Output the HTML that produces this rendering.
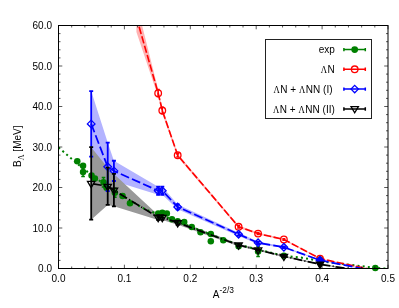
<!DOCTYPE html>
<html><head><meta charset="utf-8"><title>plot</title><style>html,body{margin:0;padding:0;background:#fff;overflow:hidden}</style></head><body>
<svg width="399" height="308" viewBox="0 0 399 308" style="display:block;will-change:transform;font-family:'Liberation Sans',sans-serif">
<rect width="399" height="308" fill="#fff"/>
<defs><clipPath id="c"><rect x="58.5" y="25.5" width="329.5" height="243"/></clipPath></defs>
<polygon points="91.19,91.11 107.71,142.54 113.92,160.77 158.17,186.69 162.29,186.69 177.69,204.51 238.59,232.66 258.08,241.57 283.87,246.43 320.02,259.79 375.31,270.93 375.31,271.74 320.02,260.60 283.87,248.05 258.08,244.00 238.59,235.90 177.69,209.37 162.29,194.79 158.17,194.79 113.92,181.02 107.71,191.15 91.19,156.72" fill="#b3b3ff" fill-opacity="1" clip-path="url(#c)"/>
<polygon points="91.19,147.20 107.71,167.66 113.92,173.93 158.17,215.04 162.29,215.04 177.69,220.71 238.59,243.79 258.08,249.06 283.87,255.54 320.02,263.84 375.31,272.55 375.31,273.36 320.02,264.65 283.87,257.16 258.08,250.68 238.59,246.22 177.69,224.76 162.29,219.90 158.17,219.90 113.92,206.33 107.71,204.91 91.19,219.70" fill="#999999" fill-opacity="1" clip-path="url(#c)"/>
<polygon points="136.41,2.82 158.17,89.49 162.29,107.31 177.69,153.68 238.59,225.57 258.08,232.58 283.87,238.69 320.02,258.17 375.31,270.12 375.31,270.93 320.02,258.98 283.87,240.31 258.08,234.60 238.59,228.00 177.69,156.92 162.29,113.79 158.17,96.78 136.41,31.98" fill="#ffb3b3" fill-opacity="1" clip-path="url(#c)"/>
<polyline fill="none" stroke="#008000" stroke-width="2" stroke-dasharray="2 3.2" clip-path="url(#c)" points="58.50,147.41 71.02,158.34 77.28,163.61 91.45,174.94 107.92,186.69 124.40,197.22 144.83,209.09 150.10,211.19 162.29,215.85 177.78,221.52 190.30,226.38 200.45,230.43 223.25,239.34 238.60,244.60 258.11,249.47 283.88,255.74 301.01,257.56 310.24,259.19 325.40,261.82 335.28,262.99 344.24,264.05 374.82,267.89 388.00,268.70"/>
<path d="M77.27 160.37V161.99M75.47 160.37h3.6 M75.47 161.99h3.6" stroke="#008000" stroke-width="1.5" fill="none" clip-path="url(#c)"/>
<path d="M83.06 164.01V167.25M81.26 164.01h3.6 M81.26 167.25h3.6" stroke="#008000" stroke-width="1.5" fill="none" clip-path="url(#c)"/>
<path d="M83.06 167.66V176.57M81.26 167.66h3.6 M81.26 176.57h3.6" stroke="#008000" stroke-width="1.5" fill="none" clip-path="url(#c)"/>
<path d="M91.56 173.93V177.17M89.76 173.93h3.6 M89.76 177.17h3.6" stroke="#008000" stroke-width="1.5" fill="none" clip-path="url(#c)"/>
<path d="M94.91 177.38V179.81M93.11 177.38h3.6 M93.11 179.81h3.6" stroke="#008000" stroke-width="1.5" fill="none" clip-path="url(#c)"/>
<path d="M103.52 177.38V187.09M101.72 177.38h3.6 M101.72 187.09h3.6" stroke="#008000" stroke-width="1.5" fill="none" clip-path="url(#c)"/>
<path d="M106.42 185.19V190.05M104.62 185.19h3.6 M104.62 190.05h3.6" stroke="#008000" stroke-width="1.5" fill="none" clip-path="url(#c)"/>
<path d="M114.84 188.31V197.22M113.04 188.31h3.6 M113.04 197.22h3.6" stroke="#008000" stroke-width="1.5" fill="none" clip-path="url(#c)"/>
<path d="M122.55 193.98V198.03M120.75 193.98h3.6 M120.75 198.03h3.6" stroke="#008000" stroke-width="1.5" fill="none" clip-path="url(#c)"/>
<path d="M129.97 202.48V204.10M128.17 202.48h3.6 M128.17 204.10h3.6" stroke="#008000" stroke-width="1.5" fill="none" clip-path="url(#c)"/>
<path d="M158.17 212.21V214.64M156.37 212.21h3.6 M156.37 214.64h3.6" stroke="#008000" stroke-width="1.5" fill="none" clip-path="url(#c)"/>
<path d="M162.29 211.96V213.58M160.49 211.96h3.6 M160.49 213.58h3.6" stroke="#008000" stroke-width="1.5" fill="none" clip-path="url(#c)"/>
<path d="M159.77 214.63V217.06M157.97 214.63h3.6 M157.97 217.06h3.6" stroke="#008000" stroke-width="1.5" fill="none" clip-path="url(#c)"/>
<path d="M166.85 212.65V214.27M165.05 212.65h3.6 M165.05 214.27h3.6" stroke="#008000" stroke-width="1.5" fill="none" clip-path="url(#c)"/>
<path d="M171.95 218.00V220.43M170.15 218.00h3.6 M170.15 220.43h3.6" stroke="#008000" stroke-width="1.5" fill="none" clip-path="url(#c)"/>
<path d="M177.69 220.35V221.97M175.89 220.35h3.6 M175.89 221.97h3.6" stroke="#008000" stroke-width="1.5" fill="none" clip-path="url(#c)"/>
<path d="M184.23 221.12V222.74M182.43 221.12h3.6 M182.43 222.74h3.6" stroke="#008000" stroke-width="1.5" fill="none" clip-path="url(#c)"/>
<path d="M191.74 226.62V227.43M189.94 226.62h3.6 M189.94 227.43h3.6" stroke="#008000" stroke-width="1.5" fill="none" clip-path="url(#c)"/>
<path d="M200.48 231.44V233.06M198.68 231.44h3.6 M198.68 233.06h3.6" stroke="#008000" stroke-width="1.5" fill="none" clip-path="url(#c)"/>
<path d="M210.81 233.26V234.88M209.01 233.26h3.6 M209.01 234.88h3.6" stroke="#008000" stroke-width="1.5" fill="none" clip-path="url(#c)"/>
<path d="M210.81 240.92V241.73M209.01 240.92h3.6 M209.01 241.73h3.6" stroke="#008000" stroke-width="1.5" fill="none" clip-path="url(#c)"/>
<path d="M223.25 239.75V240.56M221.45 239.75h3.6 M221.45 240.56h3.6" stroke="#008000" stroke-width="1.5" fill="none" clip-path="url(#c)"/>
<path d="M238.59 245.01V247.44M236.79 245.01h3.6 M236.79 247.44h3.6" stroke="#008000" stroke-width="1.5" fill="none" clip-path="url(#c)"/>
<path d="M258.08 246.71V256.43M256.28 246.71h3.6 M256.28 256.43h3.6" stroke="#008000" stroke-width="1.5" fill="none" clip-path="url(#c)"/>
<path d="M283.87 255.46V256.27M282.07 255.46h3.6 M282.07 256.27h3.6" stroke="#008000" stroke-width="1.5" fill="none" clip-path="url(#c)"/>
<path d="M320.02 259.19V259.99M318.22 259.19h3.6 M318.22 259.99h3.6" stroke="#008000" stroke-width="1.5" fill="none" clip-path="url(#c)"/>
<path d="M375.31 267.77V268.18M373.51 267.77h3.6 M373.51 268.18h3.6" stroke="#008000" stroke-width="1.5" fill="none" clip-path="url(#c)"/>
<circle cx="77.27" cy="161.18" r="3.25" fill="#008000"/>
<circle cx="83.06" cy="165.63" r="3.25" fill="#008000"/>
<circle cx="83.06" cy="172.11" r="3.25" fill="#008000"/>
<circle cx="91.56" cy="175.55" r="3.25" fill="#008000"/>
<circle cx="94.91" cy="178.59" r="3.25" fill="#008000"/>
<circle cx="103.52" cy="182.23" r="3.25" fill="#008000"/>
<circle cx="106.42" cy="187.62" r="3.25" fill="#008000"/>
<circle cx="114.84" cy="192.76" r="3.25" fill="#008000"/>
<circle cx="122.55" cy="196.00" r="3.25" fill="#008000"/>
<circle cx="129.97" cy="203.29" r="3.25" fill="#008000"/>
<circle cx="158.17" cy="213.42" r="3.25" fill="#008000"/>
<circle cx="162.29" cy="212.77" r="3.25" fill="#008000"/>
<circle cx="159.77" cy="215.85" r="3.25" fill="#008000"/>
<circle cx="166.85" cy="213.46" r="3.25" fill="#008000"/>
<circle cx="171.95" cy="219.21" r="3.25" fill="#008000"/>
<circle cx="177.69" cy="221.16" r="3.25" fill="#008000"/>
<circle cx="184.23" cy="221.93" r="3.25" fill="#008000"/>
<circle cx="191.74" cy="227.03" r="3.25" fill="#008000"/>
<circle cx="200.48" cy="232.25" r="3.25" fill="#008000"/>
<circle cx="210.81" cy="234.07" r="3.25" fill="#008000"/>
<circle cx="210.81" cy="241.32" r="3.25" fill="#008000"/>
<circle cx="223.25" cy="240.15" r="3.25" fill="#008000"/>
<circle cx="238.59" cy="246.22" r="3.25" fill="#008000"/>
<circle cx="258.08" cy="251.57" r="3.25" fill="#008000"/>
<circle cx="283.87" cy="255.86" r="3.25" fill="#008000"/>
<circle cx="320.02" cy="259.59" r="3.25" fill="#008000"/>
<circle cx="375.31" cy="267.97" r="3.25" fill="#008000"/>
<polyline fill="none" stroke="#ff0000" stroke-width="1.6" stroke-dasharray="7.4 2.4" clip-path="url(#c)" points="136.41,17.40 158.17,93.14 162.29,110.55 177.69,155.30 238.59,226.78 258.08,233.59 283.87,239.50 320.02,258.58 375.31,270.52"/>
<path d="M158.17 89.49V96.78M156.67 89.49h3 M156.67 96.78h3" stroke="#ff0000" stroke-width="1.5" fill="none" clip-path="url(#c)"/>
<path d="M162.29 107.31V113.79M160.79 107.31h3 M160.79 113.79h3" stroke="#ff0000" stroke-width="1.5" fill="none" clip-path="url(#c)"/>
<path d="M177.69 153.68V156.92M176.19 153.68h3 M176.19 156.92h3" stroke="#ff0000" stroke-width="1.5" fill="none" clip-path="url(#c)"/>
<path d="M238.59 225.57V228.00M237.09 225.57h3 M237.09 228.00h3" stroke="#ff0000" stroke-width="1.5" fill="none" clip-path="url(#c)"/>
<path d="M258.08 232.58V234.60M256.58 232.58h3 M256.58 234.60h3" stroke="#ff0000" stroke-width="1.5" fill="none" clip-path="url(#c)"/>
<path d="M283.87 238.69V240.31M282.37 238.69h3 M282.37 240.31h3" stroke="#ff0000" stroke-width="1.5" fill="none" clip-path="url(#c)"/>
<path d="M320.02 258.17V258.98M318.52 258.17h3 M318.52 258.98h3" stroke="#ff0000" stroke-width="1.5" fill="none" clip-path="url(#c)"/>
<circle cx="158.17" cy="93.14" r="3.3" fill="none" stroke="#ff0000" stroke-width="1.3"/>
<circle cx="162.29" cy="110.55" r="3.3" fill="none" stroke="#ff0000" stroke-width="1.3"/>
<circle cx="177.69" cy="155.30" r="3.3" fill="none" stroke="#ff0000" stroke-width="1.3"/>
<circle cx="238.59" cy="226.78" r="3.3" fill="none" stroke="#ff0000" stroke-width="1.3"/>
<circle cx="258.08" cy="233.59" r="3.3" fill="none" stroke="#ff0000" stroke-width="1.3"/>
<circle cx="283.87" cy="239.50" r="3.3" fill="none" stroke="#ff0000" stroke-width="1.3"/>
<circle cx="320.02" cy="258.58" r="3.3" fill="none" stroke="#ff0000" stroke-width="1.3"/>
<polyline fill="none" stroke="#0000ff" stroke-width="1.75" stroke-dasharray="9 3.2" clip-path="url(#c)" points="91.19,123.91 107.71,166.84 113.92,170.89 158.17,190.74 162.29,190.74 177.69,206.94 238.59,234.28 258.08,242.78 283.87,247.24 320.02,260.20 375.31,271.33"/>
<path d="M91.19 91.11V156.72M89.19 91.11h4 M89.19 156.72h4" stroke="#0000ff" stroke-width="1.8" fill="none" clip-path="url(#c)"/>
<path d="M107.71 142.54V191.15M105.71 142.54h4 M105.71 191.15h4" stroke="#0000ff" stroke-width="1.8" fill="none" clip-path="url(#c)"/>
<path d="M113.92 160.77V181.02M111.92 160.77h4 M111.92 181.02h4" stroke="#0000ff" stroke-width="1.8" fill="none" clip-path="url(#c)"/>
<path d="M158.17 186.69V194.79M156.17 186.69h4 M156.17 194.79h4" stroke="#0000ff" stroke-width="1.8" fill="none" clip-path="url(#c)"/>
<path d="M162.29 186.69V194.79M160.29 186.69h4 M160.29 194.79h4" stroke="#0000ff" stroke-width="1.8" fill="none" clip-path="url(#c)"/>
<path d="M177.69 204.51V209.37M175.69 204.51h4 M175.69 209.37h4" stroke="#0000ff" stroke-width="1.8" fill="none" clip-path="url(#c)"/>
<path d="M238.59 232.66V235.90M236.59 232.66h4 M236.59 235.90h4" stroke="#0000ff" stroke-width="1.8" fill="none" clip-path="url(#c)"/>
<path d="M258.08 241.57V244.00M256.08 241.57h4 M256.08 244.00h4" stroke="#0000ff" stroke-width="1.8" fill="none" clip-path="url(#c)"/>
<path d="M283.87 246.43V248.05M281.87 246.43h4 M281.87 248.05h4" stroke="#0000ff" stroke-width="1.8" fill="none" clip-path="url(#c)"/>
<path d="M320.02 259.79V260.60M318.02 259.79h4 M318.02 260.60h4" stroke="#0000ff" stroke-width="1.8" fill="none" clip-path="url(#c)"/>
<path d="M91.19 120.11l3.8 3.8l-3.8 3.8l-3.8 -3.8z" fill="none" stroke="#0000ff" stroke-width="1.3"/>
<path d="M107.71 163.04l3.8 3.8l-3.8 3.8l-3.8 -3.8z" fill="none" stroke="#0000ff" stroke-width="1.3"/>
<path d="M113.92 167.09l3.8 3.8l-3.8 3.8l-3.8 -3.8z" fill="none" stroke="#0000ff" stroke-width="1.3"/>
<path d="M158.17 186.94l3.8 3.8l-3.8 3.8l-3.8 -3.8z" fill="none" stroke="#0000ff" stroke-width="1.3"/>
<path d="M162.29 186.94l3.8 3.8l-3.8 3.8l-3.8 -3.8z" fill="none" stroke="#0000ff" stroke-width="1.3"/>
<path d="M177.69 203.14l3.8 3.8l-3.8 3.8l-3.8 -3.8z" fill="none" stroke="#0000ff" stroke-width="1.3"/>
<path d="M238.59 230.48l3.8 3.8l-3.8 3.8l-3.8 -3.8z" fill="none" stroke="#0000ff" stroke-width="1.3"/>
<path d="M258.08 238.98l3.8 3.8l-3.8 3.8l-3.8 -3.8z" fill="none" stroke="#0000ff" stroke-width="1.3"/>
<path d="M283.87 243.44l3.8 3.8l-3.8 3.8l-3.8 -3.8z" fill="none" stroke="#0000ff" stroke-width="1.3"/>
<path d="M320.02 256.40l3.8 3.8l-3.8 3.8l-3.8 -3.8z" fill="#0000ff" stroke="#0000ff" stroke-width="1.3"/>
<polyline fill="none" stroke="#000000" stroke-width="1.75" stroke-dasharray="8.6 2.3 1.2 2.3" stroke-dashoffset="12.4" clip-path="url(#c)" points="91.19,183.45 107.71,186.28 113.92,190.13 158.17,217.47 162.29,217.47 177.69,222.73 238.59,245.01 258.08,249.87 283.87,256.35 320.02,264.25 375.31,272.95"/>
<path d="M91.19 147.20V219.70M89.19 147.20h4 M89.19 219.70h4" stroke="#000000" stroke-width="1.8" fill="none" clip-path="url(#c)"/>
<path d="M107.71 167.66V204.91M105.71 167.66h4 M105.71 204.91h4" stroke="#000000" stroke-width="1.8" fill="none" clip-path="url(#c)"/>
<path d="M113.92 173.93V206.33M111.92 173.93h4 M111.92 206.33h4" stroke="#000000" stroke-width="1.8" fill="none" clip-path="url(#c)"/>
<path d="M158.17 215.04V219.90M156.17 215.04h4 M156.17 219.90h4" stroke="#000000" stroke-width="1.8" fill="none" clip-path="url(#c)"/>
<path d="M162.29 215.04V219.90M160.29 215.04h4 M160.29 219.90h4" stroke="#000000" stroke-width="1.8" fill="none" clip-path="url(#c)"/>
<path d="M177.69 220.71V224.76M175.69 220.71h4 M175.69 224.76h4" stroke="#000000" stroke-width="1.8" fill="none" clip-path="url(#c)"/>
<path d="M238.59 243.79V246.22M236.59 243.79h4 M236.59 246.22h4" stroke="#000000" stroke-width="1.8" fill="none" clip-path="url(#c)"/>
<path d="M258.08 249.06V250.68M256.08 249.06h4 M256.08 250.68h4" stroke="#000000" stroke-width="1.8" fill="none" clip-path="url(#c)"/>
<path d="M283.87 255.54V257.16M281.87 255.54h4 M281.87 257.16h4" stroke="#000000" stroke-width="1.8" fill="none" clip-path="url(#c)"/>
<path d="M320.02 263.84V264.65M318.02 263.84h4 M318.02 264.65h4" stroke="#000000" stroke-width="1.8" fill="none" clip-path="url(#c)"/>
<path d="M87.49 181.45h7.4l-3.7 6.2z" fill="none" stroke="#000000" stroke-width="1.3"/>
<path d="M104.01 184.28h7.4l-3.7 6.2z" fill="none" stroke="#000000" stroke-width="1.3"/>
<path d="M110.22 188.13h7.4l-3.7 6.2z" fill="none" stroke="#000000" stroke-width="1.3"/>
<path d="M154.47 215.47h7.4l-3.7 6.2z" fill="none" stroke="#000000" stroke-width="1.3"/>
<path d="M158.59 215.47h7.4l-3.7 6.2z" fill="none" stroke="#000000" stroke-width="1.3"/>
<path d="M173.99 220.73h7.4l-3.7 6.2z" fill="none" stroke="#000000" stroke-width="1.3"/>
<path d="M234.89 243.01h7.4l-3.7 6.2z" fill="none" stroke="#000000" stroke-width="1.3"/>
<path d="M254.38 247.87h7.4l-3.7 6.2z" fill="none" stroke="#000000" stroke-width="1.3"/>
<path d="M280.17 254.35h7.4l-3.7 6.2z" fill="none" stroke="#000000" stroke-width="1.3"/>
<path d="M316.32 262.25h7.4l-3.7 6.2z" fill="#000000" stroke="#000000" stroke-width="1.3"/>
<rect x="58.5" y="25.5" width="329.5" height="243" fill="none" stroke="#000" stroke-width="1"/>
<path d="M58.50 268.5v-3.8 M58.50 25.5v3.8 M71.68 268.5v-2 M71.68 25.5v2 M84.86 268.5v-2 M84.86 25.5v2 M98.04 268.5v-2 M98.04 25.5v2 M111.22 268.5v-2 M111.22 25.5v2 M124.40 268.5v-3.8 M124.40 25.5v3.8 M137.58 268.5v-2 M137.58 25.5v2 M150.76 268.5v-2 M150.76 25.5v2 M163.94 268.5v-2 M163.94 25.5v2 M177.12 268.5v-2 M177.12 25.5v2 M190.30 268.5v-3.8 M190.30 25.5v3.8 M203.48 268.5v-2 M203.48 25.5v2 M216.66 268.5v-2 M216.66 25.5v2 M229.84 268.5v-2 M229.84 25.5v2 M243.02 268.5v-2 M243.02 25.5v2 M256.20 268.5v-3.8 M256.20 25.5v3.8 M269.38 268.5v-2 M269.38 25.5v2 M282.56 268.5v-2 M282.56 25.5v2 M295.74 268.5v-2 M295.74 25.5v2 M308.92 268.5v-2 M308.92 25.5v2 M322.10 268.5v-3.8 M322.10 25.5v3.8 M335.28 268.5v-2 M335.28 25.5v2 M348.46 268.5v-2 M348.46 25.5v2 M361.64 268.5v-2 M361.64 25.5v2 M374.82 268.5v-2 M374.82 25.5v2 M388.00 268.5v-3.8 M388.00 25.5v3.8 M58.5 268.50h3.8 M388 268.50h-3.8 M58.5 260.40h2 M388 260.40h-2 M58.5 252.30h2 M388 252.30h-2 M58.5 244.20h2 M388 244.20h-2 M58.5 236.10h2 M388 236.10h-2 M58.5 228.00h3.8 M388 228.00h-3.8 M58.5 219.90h2 M388 219.90h-2 M58.5 211.80h2 M388 211.80h-2 M58.5 203.70h2 M388 203.70h-2 M58.5 195.60h2 M388 195.60h-2 M58.5 187.50h3.8 M388 187.50h-3.8 M58.5 179.40h2 M388 179.40h-2 M58.5 171.30h2 M388 171.30h-2 M58.5 163.20h2 M388 163.20h-2 M58.5 155.10h2 M388 155.10h-2 M58.5 147.00h3.8 M388 147.00h-3.8 M58.5 138.90h2 M388 138.90h-2 M58.5 130.80h2 M388 130.80h-2 M58.5 122.70h2 M388 122.70h-2 M58.5 114.60h2 M388 114.60h-2 M58.5 106.50h3.8 M388 106.50h-3.8 M58.5 98.40h2 M388 98.40h-2 M58.5 90.30h2 M388 90.30h-2 M58.5 82.20h2 M388 82.20h-2 M58.5 74.10h2 M388 74.10h-2 M58.5 66.00h3.8 M388 66.00h-3.8 M58.5 57.90h2 M388 57.90h-2 M58.5 49.80h2 M388 49.80h-2 M58.5 41.70h2 M388 41.70h-2 M58.5 33.60h2 M388 33.60h-2 M58.5 25.50h3.8 M388 25.50h-3.8" stroke="#000" stroke-opacity="0.65" stroke-width="1" fill="none"/>
<text x="58.50" y="282" font-size="10" text-anchor="middle">0.0</text>
<text x="124.40" y="282" font-size="10" text-anchor="middle">0.1</text>
<text x="190.30" y="282" font-size="10" text-anchor="middle">0.2</text>
<text x="256.20" y="282" font-size="10" text-anchor="middle">0.3</text>
<text x="322.10" y="282" font-size="10" text-anchor="middle">0.4</text>
<text x="388.00" y="282" font-size="10" text-anchor="middle">0.5</text>
<text x="52" y="272.10" font-size="10" text-anchor="end">0.0</text>
<text x="52" y="231.60" font-size="10" text-anchor="end">10.0</text>
<text x="52" y="191.10" font-size="10" text-anchor="end">20.0</text>
<text x="52" y="150.60" font-size="10" text-anchor="end">30.0</text>
<text x="52" y="110.10" font-size="10" text-anchor="end">40.0</text>
<text x="52" y="69.60" font-size="10" text-anchor="end">50.0</text>
<text x="52" y="29.10" font-size="10" text-anchor="end">60.0</text>
<text x="212.8" y="297.8" font-size="10">A<tspan font-size="8.4" dy="-5">-2/3</tspan></text>
<text transform="translate(20.6,166.9) rotate(-90)" font-size="10">B<tspan font-size="8" dy="3" font-family="'Liberation Serif',serif">Λ</tspan><tspan dy="-3"> [MeV]</tspan></text>
<rect x="265.5" y="39.5" width="106" height="79" fill="#fff" stroke="#222" stroke-width="1"/>
<text x="334.8" y="53.2" font-size="10" text-anchor="end">exp</text>
<path d="M343.9 49.6H365.3M343.9 47.9v3.4M365.3 47.9v3.4" stroke="#008000" stroke-width="1.5" fill="none"/>
<circle cx="354.7" cy="49.6" r="3.4" fill="#008000"/>
<text x="334.8" y="72.9" font-size="10" text-anchor="end"><tspan font-family="'Liberation Serif',serif" font-size="10.9" textLength="6.3" lengthAdjust="spacingAndGlyphs">Λ</tspan><tspan dx="0.55" font-size="0.1"> </tspan>N</text>
<path d="M343.9 69.3H365.3M343.9 67.6v3.4M365.3 67.6v3.4" stroke="#ff0000" stroke-width="1.5" fill="none"/>
<circle cx="354.7" cy="69.3" r="3.3" fill="none" stroke="#ff0000" stroke-width="1.3"/>
<text x="332.5" y="92.7" font-size="10" text-anchor="end"><tspan font-family="'Liberation Serif',serif" font-size="10.9" textLength="6.3" lengthAdjust="spacingAndGlyphs">Λ</tspan><tspan dx="0.55" font-size="0.1"> </tspan>N + <tspan font-family="'Liberation Serif',serif" font-size="10.9" textLength="6.3" lengthAdjust="spacingAndGlyphs">Λ</tspan><tspan dx="0.55" font-size="0.1"> </tspan>NN (I)</text>
<path d="M343.9 89.1H365.3M343.9 87.4v3.4M365.3 87.4v3.4" stroke="#0000ff" stroke-width="1.5" fill="none"/>
<path d="M354.7 85.4l3.7 3.7l-3.7 3.7l-3.7 -3.7z" fill="none" stroke="#0000ff" stroke-width="1.3"/>
<text x="334.8" y="112.6" font-size="10" text-anchor="end"><tspan font-family="'Liberation Serif',serif" font-size="10.9" textLength="6.3" lengthAdjust="spacingAndGlyphs">Λ</tspan><tspan dx="0.55" font-size="0.1"> </tspan>N + <tspan font-family="'Liberation Serif',serif" font-size="10.9" textLength="6.3" lengthAdjust="spacingAndGlyphs">Λ</tspan><tspan dx="0.55" font-size="0.1"> </tspan>NN (II)</text>
<path d="M343.9 109H365.3M343.9 107.3v3.4M365.3 107.3v3.4" stroke="#000000" stroke-width="1.5" fill="none"/>
<path d="M351 106.6h7.4l-3.7 6.2z" fill="none" stroke="#000000" stroke-width="1.3"/>
</svg>
</body></html>
